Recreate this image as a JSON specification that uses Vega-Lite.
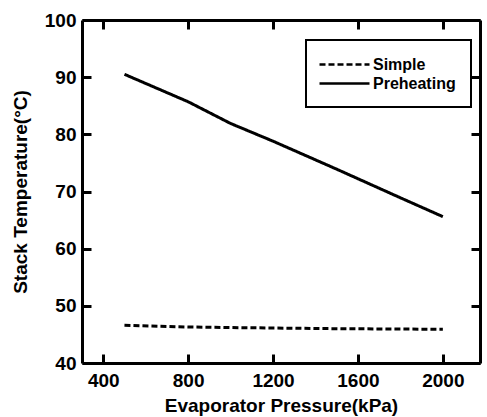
{
  "$schema": "https://vega.github.io/schema/vega-lite/v6.json",
  "width": 398,
  "height": 343,
  "autosize": "none",
  "padding": {"left": 82, "top": 20, "right": 7, "bottom": 54},
  "background": "white",
  "config": {
    "view": {"stroke": null},
    "font": "Liberation Sans",
    "legend": {"strokeWidth": 2},
    "axis": {
      "domainColor": "black",
      "domainWidth": 3,
      "grid": false,
      "ticks": true,
      "tickOpacity": 1,
      "labelFont": "Liberation Sans",
      "labelFontSize": 19,
      "labelFontWeight": "bold",
      "labelColor": "black",
      "titleFont": "Liberation Sans",
      "titleFontSize": 19,
      "titleFontWeight": "bold",
      "titleColor": "black"
    }
  },
  "data": {
    "values": [
      {"pressure": 500, "temp": 46.6, "series": "Simple"},
      {"pressure": 800, "temp": 46.3, "series": "Simple"},
      {"pressure": 1000, "temp": 46.2, "series": "Simple"},
      {"pressure": 1500, "temp": 46.0, "series": "Simple"},
      {"pressure": 2000, "temp": 45.9, "series": "Simple"},
      {"pressure": 500, "temp": 90.5, "series": "Preheating"},
      {"pressure": 800, "temp": 85.7, "series": "Preheating"},
      {"pressure": 1000, "temp": 81.9, "series": "Preheating"},
      {"pressure": 1200, "temp": 78.8, "series": "Preheating"},
      {"pressure": 1500, "temp": 73.9, "series": "Preheating"},
      {"pressure": 1800, "temp": 68.9, "series": "Preheating"},
      {"pressure": 2000, "temp": 65.6, "series": "Preheating"}
    ]
  },
  "layer": [
    {
      "mark": {"type": "line", "color": "black", "strokeWidth": 3},
      "encoding": {
        "x": {
          "field": "pressure", "type": "quantitative",
          "scale": {"domain": [300, 2175], "nice": false, "zero": false},
          "axis": {"orient": "bottom", "values": [400, 800, 1200, 1600, 2000], "format": "d", "ticks": false, "title": "Evaporator Pressure(kPa)", "labelPadding": 8, "titlePadding": 6}
        },
        "y": {
          "field": "temp", "type": "quantitative",
          "scale": {"domain": [40, 100], "nice": false, "zero": false},
          "axis": {"orient": "left", "values": [40, 50, 60, 70, 80, 90, 100], "format": "d", "ticks": false, "title": "Stack Temperature(°C)", "labelPadding": 6, "titlePadding": 14}
        },
        "strokeDash": {
          "field": "series", "type": "nominal",
          "scale": {"domain": ["Simple", "Preheating"], "range": [[6, 3], [1, 0]]},
          "legend": {
            "title": null,
            "orient": "none",
            "legendX": 224,
            "legendY": 20,
            "padding": 15,
            "strokeColor": "black",
            "fillColor": "white",
            "symbolType": "M-3.125,0H3.125",
            "symbolSize": 256,
            "symbolOffset": 14,
            "symbolStrokeWidth": 2.5,
            "symbolStrokeColor": "black",
            "labelFont": "Liberation Sans",
            "labelFontSize": 16,
            "labelFontWeight": "bold",
            "labelColor": "black",
            "labelOffset": 19,
            "rowPadding": 1
          }
        }
      }
    },
    {
      "mark": {"type": "line", "opacity": 0},
      "encoding": {
        "x": {
          "field": "pressure", "type": "quantitative",
          "scale": {"domain": [300, 2175], "nice": false, "zero": false},
          "axis": {"orient": "top", "offset": -343, "domain": false, "ticks": true, "tickSize": 9, "tickWidth": 3, "tickColor": "black", "tickOpacity": 1, "values": [400, 800, 1200, 1600, 2000], "labels": false, "title": null}
        },
        "y": {
          "field": "temp", "type": "quantitative",
          "scale": {"domain": [40, 100], "nice": false, "zero": false},
          "axis": {"orient": "right", "offset": -398, "domain": false, "ticks": true, "tickSize": 9, "tickWidth": 3, "tickColor": "black", "tickOpacity": 1, "values": [40, 50, 60, 70, 80, 90, 100], "labels": false, "title": null}
        },
        "detail": {"field": "series"}
      }
    },
    {
      "mark": {"type": "line", "opacity": 0},
      "encoding": {
        "x": {
          "field": "pressure", "type": "quantitative",
          "scale": {"domain": [300, 2175], "nice": false, "zero": false},
          "axis": {"orient": "bottom", "offset": -343, "ticks": true, "tickSize": 9, "tickWidth": 3, "tickColor": "black", "tickOpacity": 1, "values": [400, 800, 1200, 1600, 2000], "labels": false, "title": null}
        },
        "y": {
          "field": "temp", "type": "quantitative",
          "scale": {"domain": [40, 100], "nice": false, "zero": false},
          "axis": {"orient": "left", "offset": -398, "ticks": true, "tickSize": 9, "tickWidth": 3, "tickColor": "black", "tickOpacity": 1, "values": [40, 50, 60, 70, 80, 90, 100], "labels": false, "title": null}
        },
        "detail": {"field": "series"}
      }
    }
  ],
  "resolve": {"scale": {"x": "independent", "y": "independent"}, "axis": {"x": "independent", "y": "independent"}}
}
